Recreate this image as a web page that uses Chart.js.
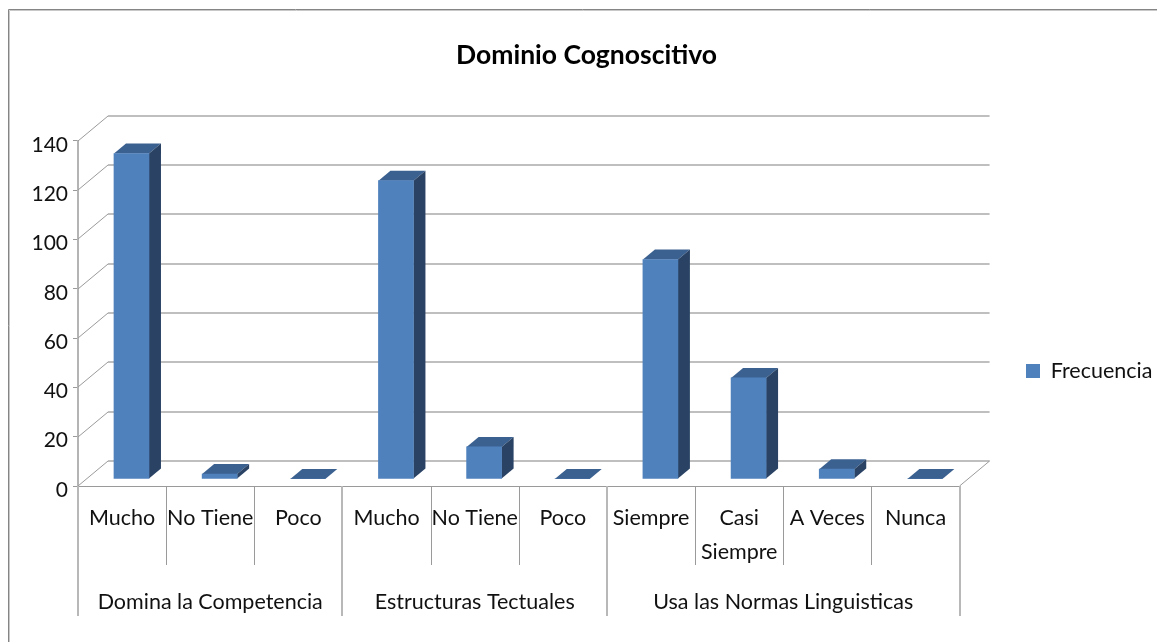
<!DOCTYPE html>
<html>
<head>
<meta charset="utf-8">
<title>Dominio Cognoscitivo</title>
<script src="https://cdn.jsdelivr.net/npm/chart.js@4"></script>
<style>
    html, body { margin: 0; padding: 0; background: #fff; overflow: hidden; }
    #wrap { position: relative; width: 1157px; height: 642px; }
</style>
</head>
<body>
<div id="wrap"><canvas id="chart"></canvas></div>
<script>
const categories = ["Mucho", "No Tiene", "Poco", "Mucho", "No Tiene", "Poco", "Siempre", ["Casi", "Siempre"], "A Veces", "Nunca"];
const frecuencia = [132, 2, 0, 121, 13, 0, 89, 41, 4, 0];
const groupNames = ["Domina la Competencia", "Estructuras Tectuales", "Usa las Normas Linguisticas"];
const groupSizes = [3, 3, 4];

const FONT = "Lato, Carlito, sans-serif";
const AXIS = "#9a9a9a";
const WALL = "#aaaaaa";

// fake 3D: walls behind the plot and the extra faces of each bar
const fake3d = {
    id: "fake3d",
    afterLayout(chart) {
        // title and legend do not sit where Chart.js would put them
        chart.titleBlock.left += 67;
        const w = chart.legend.width;
        chart.legend.left = 1016;
        chart.legend.right = 1016 + w;
        chart.legend.top += 63;
        chart.legend.bottom += 63;
    },
    beforeDatasetsDraw(chart) {
        const { ctx, scales: { x, y } } = chart;
        const left = x.left, right = x.right, bottom = y.bottom;
        ctx.save();

        // back wall + left wall lines
        y.ticks.forEach(t => {
            const py = Math.round(y.getPixelForValue(t.value));
            ctx.strokeStyle = WALL;
            ctx.lineWidth = 1.5;
            ctx.beginPath();
            ctx.moveTo(left + 30, py - 25);
            ctx.lineTo(right + 30, py - 25);
            ctx.stroke();
            ctx.strokeStyle = AXIS;
            ctx.lineWidth = 1;
            ctx.beginPath();
            ctx.moveTo(left, py);
            ctx.lineTo(left + 30, py - 25);
            ctx.stroke();
        });
        // floor right edge
        ctx.strokeStyle = AXIS;
        ctx.beginPath();
        ctx.moveTo(right, bottom);
        ctx.lineTo(right + 30, bottom - 25);
        ctx.stroke();

        // category separators under the axis
        let idx = 0;
        const groupEnds = new Set([0]);
        groupSizes.forEach(n => { idx += n; groupEnds.add(idx); });
        for (let i = 0; i <= categories.length; i++) {
            const isGroup = groupEnds.has(i);
            const px = Math.round(x.getPixelForValue(i - 0.5)) + (isGroup ? 0 : 0.5);
            ctx.strokeStyle = isGroup ? "#b8b8b8" : AXIS;
            ctx.lineWidth = isGroup ? 2 : 1;
            ctx.beginPath();
            ctx.moveTo(px, bottom);
            ctx.lineTo(px, isGroup ? 616 : 565);
            ctx.stroke();
        }

        // group labels
        ctx.fillStyle = "#111";
        ctx.font = "21.5px " + FONT;
        ctx.textAlign = "center";
        ctx.textBaseline = "middle";
        let start = 0;
        groupNames.forEach((name, g) => {
            const a = x.getPixelForValue(start - 0.5);
            const b = x.getPixelForValue(start + groupSizes[g] - 0.5);
            ctx.fillText(name, (a + b) / 2, 602);
            start += groupSizes[g];
        });

        // chart frame, only top and left are in the picture
        ctx.lineWidth = 1;
        ctx.strokeStyle = "#c8c8c8";
        ctx.beginPath();
        ctx.moveTo(9.5, 642);
        ctx.lineTo(9.5, 10.5);
        ctx.lineTo(1157, 10.5);
        ctx.stroke();
        ctx.strokeStyle = "#858585";
        ctx.beginPath();
        ctx.moveTo(8.5, 642);
        ctx.lineTo(8.5, 9.5);
        ctx.lineTo(1157, 9.5);
        ctx.stroke();
        ctx.restore();

        // bars stand a little behind the front axis
        ctx.save();
        ctx.translate(9.4, -7);
        chart.getDatasetMeta(0).data.forEach(bar => {
            const w = bar.width / 2;
            const x0 = bar.x - w, x1 = bar.x + w, top = bar.y, base = bar.base;
            ctx.fillStyle = "#3b6190";
            ctx.beginPath();
            ctx.moveTo(x0, top);
            ctx.lineTo(x0 + 12, top - 10);
            ctx.lineTo(x1 + 12, top - 10);
            ctx.lineTo(x1, top);
            ctx.closePath();
            ctx.fill();
            ctx.fillStyle = "#2a4365";
            ctx.beginPath();
            ctx.moveTo(x1, top);
            ctx.lineTo(x1 + 12, top - 10);
            ctx.lineTo(x1 + 12, base - 10);
            ctx.lineTo(x1, base);
            ctx.closePath();
            ctx.fill();
        });
    },
    afterDatasetsDraw(chart) {
        chart.ctx.restore();
    }
};

new Chart(document.getElementById("chart"), {
    type: "bar",
    data: {
        labels: categories,
        datasets: [{
            label: "Frecuencia",
            data: frecuencia,
            backgroundColor: "#4f81bd",
            barThickness: 35
        }]
    },
    plugins: [fake3d],
    options: {
        responsive: true,
        maintainAspectRatio: false,
        animation: false,
        layout: { padding: { left: 0, right: 51, top: 0, bottom: 26 } },
        plugins: {
            tooltip: { enabled: false },
            title: {
                display: true,
                text: "Dominio Cognoscitivo",
                color: "#000",
                font: { family: FONT, size: 26.5, weight: "bold", lineHeight: 1.2 },
                padding: { top: 40, bottom: 69 }
            },
            legend: {
                position: "right",
                labels: {
                    color: "#111",
                    font: { family: FONT, size: 21.5 },
                    boxWidth: 14,
                    boxHeight: 14,
                    padding: 10
                }
            }
        },
        scales: {
            x: {
                afterFit(s) { s.height = 130; },
                grid: { display: false },
                border: { display: true, color: AXIS },
                ticks: {
                    color: "#111",
                    font: { family: FONT, size: 21.5, lineHeight: 1.58 },
                    autoSkip: false,
                    maxRotation: 0,
                    padding: 7
                }
            },
            y: {
                min: 0,
                max: 140,
                afterFit(s) { s.width = 78; },
                grid: { drawOnChartArea: false, tickLength: 5, color: AXIS },
                border: { color: "#b4b4b4", width: 2 },
                ticks: {
                    stepSize: 20,
                    color: "#111",
                    font: { family: FONT, size: 21 },
                    padding: 5,
                    labelOffset: 4
                }
            }
        }
    }
});
</script>
</body>
</html>
